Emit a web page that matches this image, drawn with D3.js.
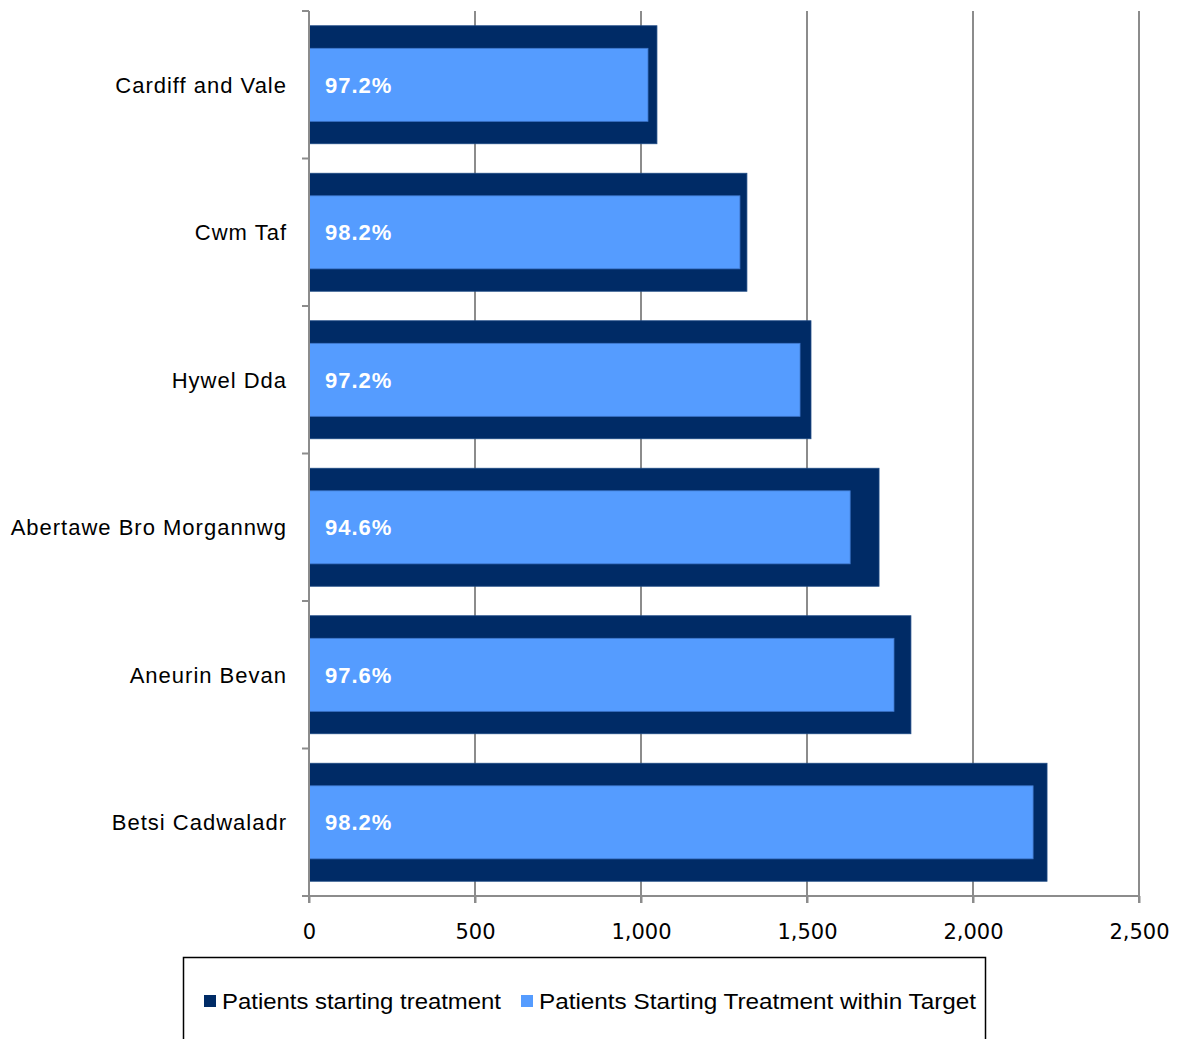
<!DOCTYPE html>
<html>
<head>
<meta charset="utf-8">
<script src="https://d3js.org/d3.v7.min.js"></script>
<style>
  body { margin: 0; background: #fff; }
  svg { display: block; }
</style>
</head>
<body>
<svg id="chart" width="1178" height="1039"></svg>
<script>
// health boards, top to bottom
var boards = ["Cardiff and Vale", "Cwm Taf", "Hywel Dda", "Abertawe Bro Morgannwg", "Aneurin Bevan", "Betsi Cadwaladr"];
var starting = [1048, 1319, 1512, 1717, 1813, 2223];
var withinTarget = [1021, 1298, 1479, 1630, 1762, 2181];
var pctLabels = ["97.2%", "98.2%", "97.2%", "94.6%", "97.6%", "98.2%"];
var xTicks = [0, 500, 1000, 1500, 2000, 2500];
var seriesNames = ["Patients starting treatment", "Patients Starting Treatment within Target"];

var darkBlue = "#002b66";
var lightBlue = "#559cff";

var svg = d3.select("#chart");
var plotLeft = 309, plotRight = 1139, plotTop = 11, plotBottom = 896;

var xScale = d3.scaleLinear().domain([0, 2500]).range([plotLeft, plotRight]);
var yBand = d3.scaleBand().domain(boards).range([plotTop, plotBottom]);

// vertical grid lines
svg.selectAll(".grid")
    .data(xTicks.slice(1))
    .enter().append("line")
    .attr("class", "grid")
    .attr("x1", function (d) { return xScale(d); })
    .attr("x2", function (d) { return xScale(d); })
    .attr("y1", plotTop)
    .attr("y2", plotBottom + 7)
    .attr("stroke", "#8c8c8c")
    .attr("stroke-width", 2);

// outer bars (all patients)
svg.selectAll(".outer")
    .data(boards)
    .enter().append("rect")
    .attr("class", "outer")
    .attr("x", plotLeft)
    .attr("y", function (d) { return yBand(d) + yBand.bandwidth() * 0.1; })
    .attr("width", function (d, i) { return xScale(starting[i]) - plotLeft; })
    .attr("height", yBand.bandwidth() * 0.8)
    .attr("fill", darkBlue)
    .attr("stroke", "#1d4a85")
    .attr("stroke-width", 0.8);

// inner bars (within target)
svg.selectAll(".inner")
    .data(boards)
    .enter().append("rect")
    .attr("class", "inner")
    .attr("x", plotLeft)
    .attr("y", function (d) { return yBand(d) + yBand.bandwidth() * 0.253; })
    .attr("width", function (d, i) { return xScale(withinTarget[i]) - plotLeft; })
    .attr("height", yBand.bandwidth() * 0.495)
    .attr("fill", lightBlue)
    .attr("stroke", "#3f78cc")
    .attr("stroke-width", 0.8);

// percentage labels
svg.selectAll(".pct")
    .data(boards)
    .enter().append("text")
    .attr("class", "pct")
    .attr("x", plotLeft + 16)
    .attr("y", function (d) { return yBand(d) + yBand.bandwidth() / 2 + 8; })
    .attr("font-family", "Liberation Sans, Arial, sans-serif")
    .attr("font-size", 22)
    .attr("font-weight", "bold")
    .attr("letter-spacing", 1)
    .attr("fill", "#fff")
    .text(function (d, i) { return pctLabels[i]; });

// y axis
var yAxis = svg.append("g");
yAxis.append("line")
    .attr("x1", plotLeft).attr("x2", plotLeft)
    .attr("y1", plotTop).attr("y2", plotBottom + 7)
    .attr("stroke", "#8c8c8c").attr("stroke-width", 2);
var yTickPos = boards.map(function (d) { return yBand(d); }).concat([plotBottom]);
yAxis.selectAll(".ytick")
    .data(yTickPos)
    .enter().append("line")
    .attr("x1", plotLeft - 7).attr("x2", plotLeft)
    .attr("y1", function (d) { return d; })
    .attr("y2", function (d) { return d; })
    .attr("stroke", "#8c8c8c").attr("stroke-width", 2);
yAxis.selectAll(".ylabel")
    .data(boards)
    .enter().append("text")
    .attr("x", 287)
    .attr("y", function (d) { return yBand(d) + yBand.bandwidth() / 2 + 8; })
    .attr("text-anchor", "end")
    .attr("font-family", "Liberation Sans, Arial, sans-serif")
    .attr("font-size", 22)
    .attr("letter-spacing", 1)
    .attr("fill", "#000")
    .text(function (d) { return d; });

// x axis
var xAxis = svg.append("g")
    .attr("transform", "translate(0," + plotBottom + ")")
    .call(d3.axisBottom(xScale).tickValues(xTicks).tickSize(7).tickPadding(21)
        .tickFormat(d3.format(",")));
xAxis.select(".domain").attr("stroke", "#8c8c8c").attr("stroke-width", 2)
    .attr("d", "M" + (plotLeft - 7) + ",0H" + plotRight);
xAxis.selectAll(".tick line").attr("stroke", "#8c8c8c").attr("stroke-width", 2);
xAxis.selectAll(".tick text")
    .attr("font-family", "DejaVu Sans, sans-serif")
    .attr("font-size", 21)
    .attr("fill", "#000");

// legend
var legend = svg.append("g");
legend.append("rect")
    .attr("x", 183.5).attr("y", 957.5)
    .attr("width", 802).attr("height", 100)
    .attr("fill", "none").attr("stroke", "#000").attr("stroke-width", 1.5);
var legendX = [204, 521];
var legendWidths = [279, 437];
var legendColors = [darkBlue, lightBlue];
seriesNames.forEach(function (name, i) {
    legend.append("rect")
        .attr("x", legendX[i]).attr("y", 995)
        .attr("width", 12).attr("height", 12)
        .attr("fill", legendColors[i]);
    legend.append("text")
        .attr("x", legendX[i] + 18).attr("y", 1009)
        .attr("font-family", "Liberation Sans, Arial, sans-serif")
        .attr("font-size", 22)
        .attr("textLength", legendWidths[i])
        .attr("lengthAdjust", "spacingAndGlyphs")
        .attr("fill", "#000")
        .text(name);
});
</script>
</body>
</html>
